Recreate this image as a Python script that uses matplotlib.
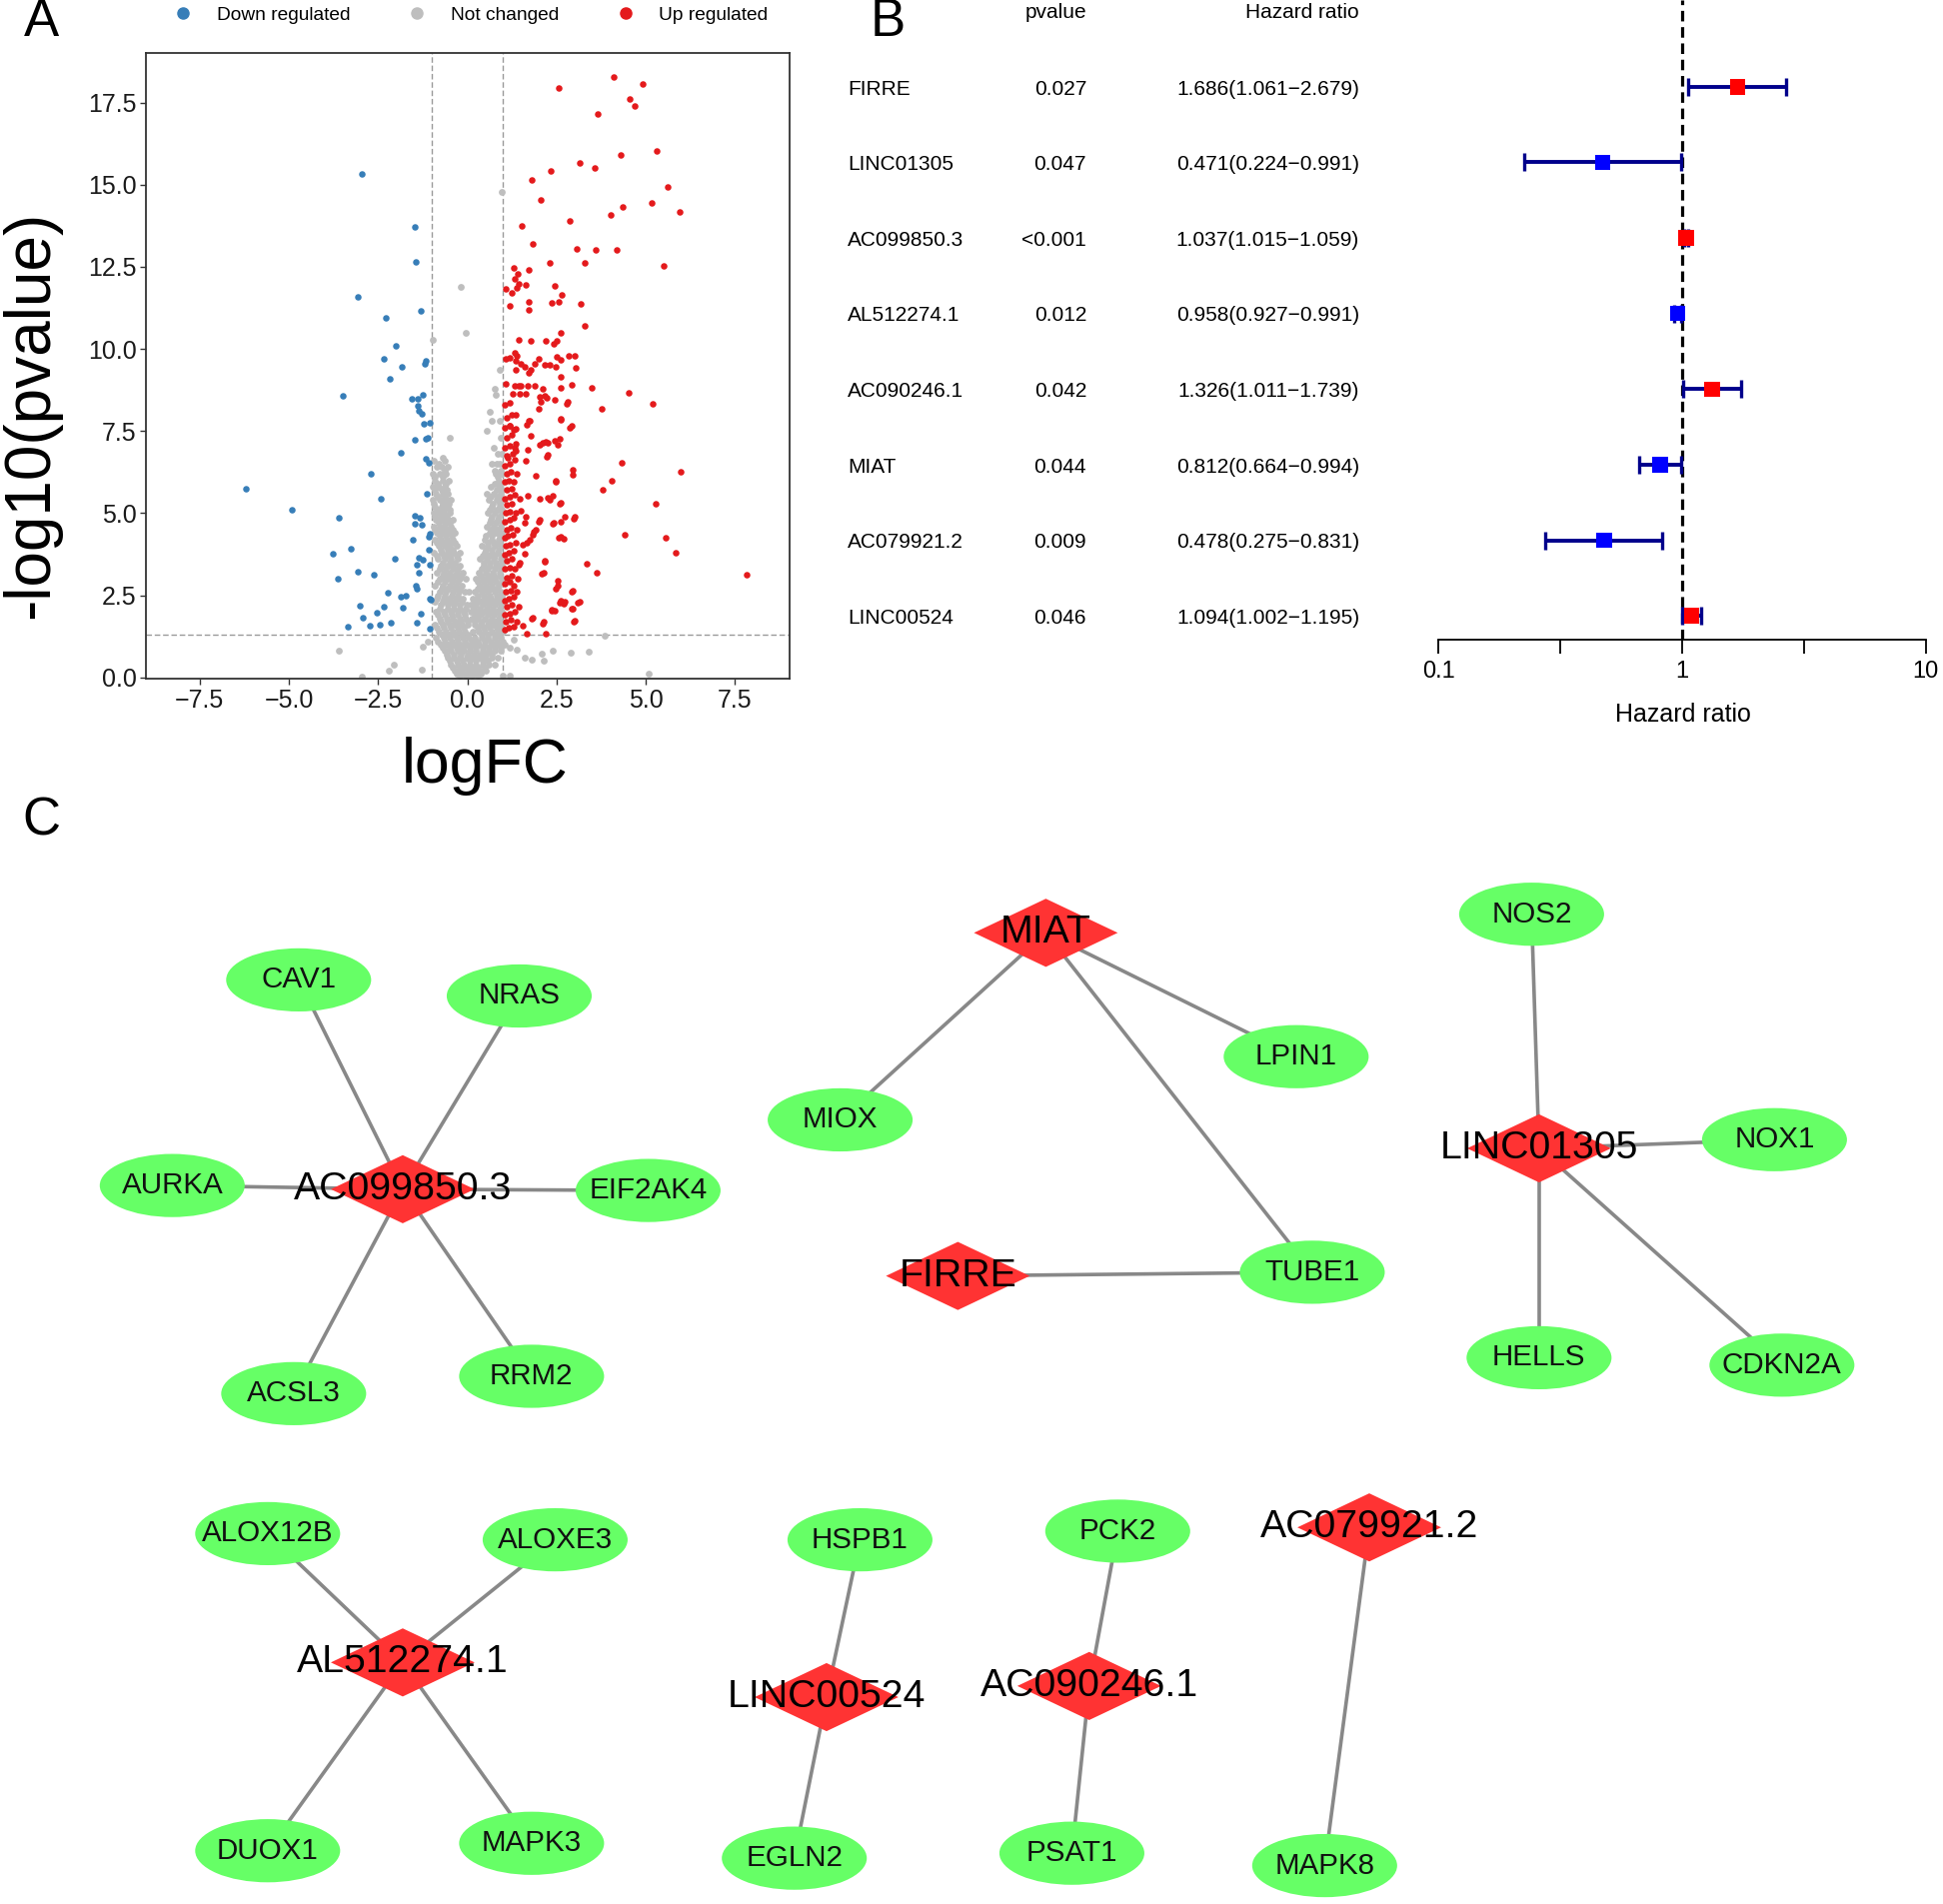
import matplotlib
matplotlib.use('Agg')
import matplotlib.pyplot as plt
import numpy as np
from matplotlib.patches import Ellipse, Polygon
from matplotlib.lines import Line2D
from matplotlib.transforms import blended_transform_factory

plt.rcParams['font.family'] = ['Liberation Sans', 'DejaVu Sans']

# ---------------- Panel A data (logFC, -log10 p) ----------------
down_pts = [(-2.97,15.34),(-1.48,13.71),(-1.43,12.66),(-3.08,11.58),(-1.30,11.16),(-2.27,10.95),
            (-2.0,10.10),(-2.33,9.71),(-1.83,9.47),(-2.16,9.09),(-1.15,9.64),(-1.18,9.55),(-3.49,8.57),
            (-1.56,8.47),(-1.40,8.49),(-1.25,8.61),(-1.40,8.26),(-1.36,8.11),(-1.28,8.03),(-1.22,7.72),
            (-1.06,7.76),(-1.46,7.24),(-1.17,7.27),(-1.10,7.30),(-1.86,6.85),(-1.15,6.67),(-1.08,6.54),
            (-2.71,6.19),(-1.13,5.60),(-6.21,5.73),(-2.43,5.43),(-4.91,5.10),(-3.59,4.87),(-1.48,4.93),
            (-1.33,4.87),(-1.46,4.69),(-1.27,4.65),(-1.05,4.37),(-1.08,4.27),(-1.52,4.20),(-3.27,3.92),
            (-1.07,3.88),(-3.78,3.77),(-2.02,3.61),(-1.36,3.64),(-1.26,3.57),(-1.41,3.43),(-1.05,3.42),
            (-3.08,3.22),(-2.62,3.12),(-1.37,3.18),(-3.62,3.0),(-1.43,2.80),(-1.41,2.70),(-2.24,2.58),
            (-1.73,2.49),(-1.85,2.45),(-1.06,2.41),(-1.02,2.38),(-3.02,2.17),(-2.34,2.16),(-1.80,2.11),
            (-2.54,1.97),(-2.93,1.83),(-1.30,1.95),(-2.14,1.67),(-2.44,1.61),(-2.72,1.57),(-3.35,1.53),
            (-1.41,1.67),(-1.05,1.47)]

up_pts_high = [(4.11,18.28),(2.56,17.93),(4.91,18.07),(4.55,17.61),(4.68,17.41),(3.65,17.16),(5.30,16.02),
               (4.30,15.90),(3.15,15.67),(2.33,15.41),(3.58,15.52),(1.82,15.15),(5.62,14.93),(2.06,14.55),
               (5.16,14.45),(4.36,14.31),(5.94,14.17),(4.01,14.08),(2.86,13.89),(1.53,13.75),(1.83,13.19),
               (3.07,13.05),(3.59,13.0),(4.18,13.01),(2.31,12.62),(3.30,12.62),(5.50,12.52),(1.30,12.48),
               (1.41,12.28),(1.71,12.42),(1.33,12.13),(1.65,11.95),(1.40,11.85),(1.26,11.71),(1.08,11.82),
               (1.43,11.97),(2.44,11.93),(2.64,11.64),(2.56,11.43),(2.36,11.41),(1.20,11.30),(1.73,11.44),
               (1.71,11.18),(3.18,11.36),(3.28,10.71),(2.61,10.48),(2.51,10.25),(2.43,10.17),(1.45,10.27),
               (1.78,10.24),(2.19,10.24),(1.07,9.69),(1.20,9.73),(1.32,9.87),(1.40,9.79),(1.35,9.64),
               (1.50,9.55),(1.36,9.36),(1.60,9.45),(1.77,9.37),(1.72,9.28),(2.01,9.71),(1.90,9.55),
               (2.18,9.52),(2.31,9.52),(2.52,9.75),(2.62,9.66),(2.84,9.79),(3.0,9.8),(3.04,9.41),
               (2.48,9.47),(2.62,9.15),(5.20,8.32),(5.97,6.25),(5.29,5.28),(5.57,4.26),(5.84,3.81),(7.83,3.14)]

up_pts_mid = [(1.09,8.93),(1.32,8.88),(1.51,8.88),(1.69,8.88),(1.88,8.88),(2.12,8.78),(2.63,8.83),(2.94,8.90),
              (3.48,8.83),(4.53,8.66),(1.27,8.63),(1.46,8.63),(1.65,8.63),(2.02,8.53),(2.16,8.58),(2.82,8.39),
              (3.76,8.19),(2.63,7.88),(2.92,7.66),(1.74,7.81),(1.35,7.99),(1.37,7.56),(1.18,7.66),(1.79,7.35),
              (2.59,7.25),(2.12,7.15),(2.26,7.15),(2.26,6.79),(1.32,6.99),(1.37,6.89),(1.70,6.94),(1.13,6.69),
              (1.32,6.64),(1.63,6.59),(2.96,6.33),(2.96,6.18),(4.32,6.52),(1.93,6.13),(2.49,6.0),(4.06,6.0),
              (3.81,5.72),(1.70,5.52),(2.02,5.43),(2.26,5.47),(2.40,5.52),(2.63,5.33),(1.51,5.06),(1.65,4.90),
              (2.02,4.80),(2.42,4.72),(2.73,4.90),(3.01,4.88),(2.63,4.75),(1.60,4.70),(1.93,4.50),(1.84,4.34),
              (2.63,4.29),(2.70,4.21),(4.42,4.34),(1.56,4.03),(1.60,3.78),(1.44,3.42),(2.18,3.55),(2.14,3.19),
              (3.36,3.45),(3.64,3.19),(2.54,2.93),(2.54,2.78),(2.96,2.64),(2.63,2.33),(2.73,2.30),(2.96,2.10),
              (3.15,2.30),(2.38,2.07),(2.45,2.03),(1.84,1.81),(2.14,1.69),(3.01,1.74),(1.56,1.57),(1.67,1.33),
              (2.21,1.33),(2.46,8.46),(2.06,8.39),(1.99,8.17),(2.24,8.52),(1.43,8.89),(2.79,8.33),(1.71,7.82),
              (1.68,7.68),(2.61,7.83),(2.87,7.59),(2.46,7.20),(2.54,7.07),(2.21,7.16),(2.02,7.07),(2.24,6.72),
              (2.48,5.95),(2.32,5.42),(2.59,5.28),(2.98,4.82),(2.39,4.69),(2.0,4.73),(1.86,4.44),(1.66,4.10),
              (1.75,4.20),(2.56,4.26),(2.16,3.52),(2.09,3.15),(2.49,2.70),(2.93,2.62),(3.09,2.28),(2.93,2.09),
              (2.59,2.28),(2.71,2.25),(2.37,2.03),(2.99,1.71),(1.81,1.78),(2.12,1.65)]

up_pts_strip = [(1.05,1.45),(1.15,1.5),(1.3,1.55),(1.08,1.7),(1.22,1.75),(1.4,1.7),(1.05,1.9),(1.18,1.95),
                (1.32,2.0),(1.1,2.15),(1.25,2.2),(1.45,2.15),(1.04,2.35),(1.16,2.4),(1.3,2.45),(1.08,2.6),
                (1.22,2.65),(1.38,2.6),(1.05,2.85),(1.18,2.9),(1.3,2.8),(1.12,3.05),(1.26,3.1),(1.42,3.0),
                (1.05,3.3),(1.2,3.35),(1.34,3.3),(1.1,3.55),(1.24,3.6),(1.48,3.5),(1.04,3.75),(1.16,3.8),
                (1.3,3.85),(1.08,4.0),(1.2,4.05),(1.36,4.1),(1.05,4.25),(1.14,4.3),(1.28,4.35),(1.1,4.5),
                (1.22,4.55),(1.4,4.5),(1.04,4.75),(1.18,4.8),(1.3,4.85),(1.08,5.0),(1.2,5.05),(1.36,5.0),
                (1.12,5.25),(1.26,5.3),(1.05,5.45),(1.18,5.5),(1.32,5.55),(1.46,5.45),(1.1,5.7),(1.24,5.75),
                (1.04,5.95),(1.16,6.0),(1.3,5.95),(1.1,6.2),(1.22,6.25),(1.38,6.2),(1.05,6.45),(1.2,6.5),
                (1.12,6.75),(1.28,6.8),(1.05,7.0),(1.2,7.05),(1.35,7.1),(1.1,7.3),(1.25,7.4),(1.06,7.6),
                (1.18,7.65),(1.3,7.55),(1.1,7.9),(1.25,8.0),(1.05,8.3),(1.18,8.35)]

nc_pts_left = [(-0.95,6.6),(-0.62,6.6),(-0.85,6.4),(-0.55,6.4),(-0.72,6.4),(-0.98,6.2),(-0.78,6.2),(-0.60,6.2),
               (-0.90,6.0),(-0.68,6.0),(-0.52,6.0),(-0.96,5.8),(-0.80,5.8),(-0.62,5.8),(-0.88,5.6),(-0.70,5.6),
               (-0.55,5.6),(-0.97,5.4),(-0.78,5.4),(-0.60,5.4),(-0.45,5.4),(-0.90,5.2),(-0.72,5.2),(-0.55,5.2),
               (-0.95,5.0),(-0.80,5.0),(-0.65,5.0),(-0.48,5.0),(-0.88,4.8),(-0.70,4.8),(-0.55,4.8),(-0.40,4.8),
               (-0.93,4.6),(-0.78,4.6),(-0.62,4.6),(-0.46,4.6),(-0.85,4.4),(-0.68,4.4),(-0.52,4.4),(-0.36,4.4),
               (-0.90,4.2),(-0.75,4.2),(-0.58,4.2),(-0.42,4.2),(-0.80,4.0),(-0.64,4.0),(-0.48,4.0),(-0.30,4.0),
               (-0.95,3.8),(-0.72,3.8),(-0.55,3.8),(-0.38,3.8),(-0.22,3.8),(-0.82,3.6),(-0.62,3.6),(-0.45,3.6),
               (-0.28,3.6),(-0.74,3.4),(-0.56,3.4),(-0.40,3.4),(-0.20,3.4),(-0.85,3.2),(-0.66,3.2),(-0.48,3.2),
               (-0.30,3.2),(-0.12,3.2),(-0.76,3.0),(-0.58,3.0),(-0.40,3.0),(-0.22,3.0),(-0.05,3.0),(-0.90,2.8),
               (-0.68,2.8),(-0.50,2.8),(-0.32,2.8),(-0.15,2.8),(-0.78,2.6),(-0.60,2.6),(-0.42,2.6),(-0.25,2.6),
               (-0.08,2.6),(0.05,2.6),(-0.85,2.4),(-0.66,2.4),(-0.48,2.4),(-0.30,2.4),(-0.12,2.4),(-0.74,2.2),
               (-0.55,2.2),(-0.38,2.2),(-0.20,2.2),(-0.02,2.2),(0.10,2.2),(-0.88,2.0),(-0.65,2.0),(-0.46,2.0),
               (-0.28,2.0),(-0.10,2.0),(-0.78,1.8),(-0.58,1.8),(-0.40,1.8),(-0.22,1.8),(-0.05,1.8),(0.12,1.8),
               (-0.92,1.6),(-0.70,1.6),(-0.50,1.6),(-0.32,1.6),(-0.15,1.6),(0.02,1.6),(-0.80,1.4),(-0.60,1.4),
               (-0.42,1.4),(-0.25,1.4),(-0.08,1.4),(0.15,1.4),(-0.88,1.2),(-0.66,1.2),(-0.48,1.2),(-0.30,1.2),
               (-0.12,1.2),(0.05,1.2),(0.22,1.2),(-0.75,1.0),(-0.55,1.0),(-0.38,1.0),(-0.20,1.0),(-0.02,1.0),
               (0.15,1.0),(0.32,1.0),(-0.62,0.8),(-0.45,0.8),(-0.28,0.8),(-0.10,0.8),(0.08,0.8),(0.25,0.8),
               (0.42,0.8),(-0.55,0.6),(-0.38,0.6),(-0.20,0.6),(-0.02,0.6),(0.15,0.6),(0.32,0.6),(0.50,0.6),
               (-0.45,0.4),(-0.28,0.4),(-0.10,0.4),(0.08,0.4),(0.25,0.4),(0.42,0.4),(-0.35,0.2),(-0.18,0.2),
               (0.0,0.2),(0.18,0.2),(0.35,0.2),(-0.22,0.05),(-0.05,0.05),(0.12,0.05),(0.28,0.05)]

nc_pts_right = [(0.80,8.6),(0.62,8.1),(0.68,7.8),(0.90,7.8),(0.55,7.5),(0.95,7.3),(0.75,7.0),(0.85,6.8),
                (0.98,6.8),(0.70,6.5),(0.92,6.5),(0.80,6.2),(0.96,6.2),(0.88,6.0),(0.65,5.8),(0.90,5.8),
                (0.55,5.6),(0.75,5.6),(0.95,5.6),(0.60,5.4),(0.82,5.4),(0.98,5.4),(0.70,5.2),(0.90,5.2),
                (0.58,5.0),(0.78,5.0),(0.96,5.0),(0.66,4.8),(0.85,4.8),(0.55,4.6),(0.74,4.6),(0.93,4.6),
                (0.62,4.4),(0.80,4.4),(0.97,4.4),(0.48,4.2),(0.68,4.2),(0.88,4.2),(0.40,4.0),(0.58,4.0),
                (0.76,4.0),(0.95,4.0),(0.50,3.8),(0.68,3.8),(0.86,3.8),(0.36,3.6),(0.55,3.6),(0.74,3.6),
                (0.93,3.6),(0.45,3.4),(0.64,3.4),(0.82,3.4),(0.98,3.4),(0.32,3.2),(0.52,3.2),(0.72,3.2),
                (0.90,3.2),(0.25,3.0),(0.42,3.0),(0.60,3.0),(0.78,3.0),(0.96,3.0),(0.34,2.8),(0.52,2.8),
                (0.70,2.8),(0.88,2.8),(0.22,2.6),(0.40,2.6),(0.58,2.6),(0.76,2.6),(0.94,2.6),(0.15,2.4),
                (0.30,2.4),(0.48,2.4),(0.66,2.4),(0.84,2.4),(0.98,2.4),(0.25,2.2),(0.42,2.2),(0.60,2.2),
                (0.78,2.2),(0.95,2.2),(0.10,2.0),(0.28,2.0),(0.46,2.0),(0.64,2.0),(0.82,2.0),(0.97,2.0),
                (0.30,1.8),(0.50,1.8),(0.70,1.8),(0.88,1.8),(0.20,1.6),(0.38,1.6),(0.56,1.6),(0.74,1.6),
                (0.92,1.6),(0.32,1.4),(0.50,1.4),(0.68,1.4),(0.86,1.4),(0.99,1.4),(0.40,1.2),(0.58,1.2),
                (0.76,1.2),(0.94,1.2),(0.50,1.0),(0.68,1.0),(0.86,1.0),(1.05,1.0),(0.60,0.8),(0.78,0.8),
                (0.95,0.8),(0.68,0.6),(0.85,0.6),(0.60,0.4),(0.78,0.4),(0.52,0.2)]

nc_pts_fill = [(-0.30,0.1),(-0.12,0.1),(0.05,0.1),(0.22,0.1),(0.38,0.1),
               (-0.40,0.3),(-0.22,0.3),(-0.05,0.3),(0.12,0.3),(0.30,0.3),(0.48,0.3),
               (-0.50,0.5),(-0.30,0.5),(-0.12,0.5),(0.06,0.5),(0.24,0.5),(0.42,0.5),(0.58,0.5),
               (-0.58,0.7),(-0.38,0.7),(-0.18,0.7),(0.0,0.7),(0.18,0.7),(0.36,0.7),(0.52,0.7),(0.70,0.7),
               (-0.68,0.9),(-0.48,0.9),(-0.30,0.9),(-0.12,0.9),(0.06,0.9),(0.24,0.9),(0.42,0.9),(0.60,0.9),
               (0.78,0.9),(0.95,0.9),
               (-0.82,1.1),(-0.62,1.1),(-0.44,1.1),(-0.26,1.1),(-0.08,1.1),(0.12,1.1),(0.30,1.1),(0.48,1.1),
               (0.66,1.1),(0.84,1.1),(1.0,1.1),
               (-0.72,1.3),(-0.52,1.3),(-0.34,1.3),(-0.16,1.3),(0.02,1.3),(0.40,1.3),(0.58,1.3),(0.76,1.3),(0.92,1.3),
               (-0.86,1.5),(-0.66,1.5),(-0.46,1.5),(-0.28,1.5),(-0.10,1.5),(0.28,1.5),(0.46,1.5),(0.64,1.5),
               (0.82,1.5),(0.96,1.5),
               (-0.74,1.7),(-0.55,1.7),(-0.36,1.7),(-0.18,1.7),(0.0,1.7),(0.22,1.7),(0.40,1.7),(0.60,1.7),
               (0.80,1.7),(0.95,1.7),
               (-0.84,1.9),(-0.62,1.9),(-0.44,1.9),(-0.26,1.9),(-0.08,1.9),(0.20,1.9),(0.38,1.9),(0.56,1.9),
               (0.74,1.9),(0.92,1.9),
               (-0.78,2.1),(-0.56,2.1),(-0.38,2.1),(-0.20,2.1),(-0.03,2.1),(0.18,2.1),(0.36,2.1),(0.54,2.1),
               (0.72,2.1),(0.90,2.1),
               (-0.90,2.3),(-0.70,2.3),(-0.52,2.3),(-0.34,2.3),(-0.16,2.3),(0.20,2.3),(0.38,2.3),(0.56,2.3),
               (0.74,2.3),(0.92,2.3),
               (-0.82,2.5),(-0.62,2.5),(-0.44,2.5),(-0.26,2.5),(0.28,2.5),(0.46,2.5),(0.64,2.5),(0.82,2.5),(0.97,2.5),
               (-0.72,2.7),(-0.54,2.7),(-0.36,2.7),(-0.20,2.7),(0.30,2.7),(0.48,2.7),(0.66,2.7),(0.84,2.7),
               (-0.82,2.9),(-0.62,2.9),(-0.44,2.9),(-0.26,2.9),(0.30,2.9),(0.46,2.9),(0.62,2.9),(0.80,2.9),(0.96,2.9),
               (-0.70,3.1),(-0.52,3.1),(-0.34,3.1),(-0.18,3.1),(0.38,3.1),(0.56,3.1),(0.74,3.1),(0.92,3.1),
               (-0.78,3.3),(-0.60,3.3),(-0.42,3.3),(-0.26,3.3),(0.40,3.3),(0.58,3.3),(0.76,3.3),(0.94,3.3),
               (-0.68,3.5),(-0.50,3.5),(-0.34,3.5),(0.45,3.5),(0.62,3.5),(0.80,3.5),(0.96,3.5),
               (-0.86,3.7),(-0.66,3.7),(-0.48,3.7),(-0.30,3.7),(0.44,3.7),(0.60,3.7),(0.78,3.7),(0.96,3.7),
               (-0.74,3.9),(-0.56,3.9),(-0.40,3.9),(0.52,3.9),(0.70,3.9),(0.88,3.9),
               (-0.86,4.1),(-0.68,4.1),(-0.50,4.1),(-0.34,4.1),(0.56,4.1),(0.74,4.1),(0.92,4.1),
               (-0.78,4.3),(-0.60,4.3),(-0.44,4.3),(0.52,4.3),(0.70,4.3),(0.90,4.3),
               (-0.90,4.5),(-0.72,4.5),(-0.56,4.5),(-0.40,4.5),(0.66,4.5),(0.84,4.5),
               (-0.80,4.7),(-0.62,4.7),(-0.48,4.7),(0.62,4.7),(0.80,4.7),(0.96,4.7),
               (-0.92,4.9),(-0.74,4.9),(-0.58,4.9),(0.70,4.9),(0.88,4.9),
               (-0.84,5.1),(-0.66,5.1),(-0.50,5.1),(0.64,5.1),(0.82,5.1),(0.97,5.1),
               (-0.94,5.3),(-0.68,5.3),(-0.52,5.3),(0.72,5.3),(0.90,5.3),
               (-0.84,5.5),(-0.64,5.5),(0.66,5.5),(0.86,5.5),
               (-0.92,5.7),(-0.72,5.7),(-0.58,5.7),(0.82,5.7),(0.97,5.7),
               (-0.84,5.9),(-0.60,5.9),(0.78,5.9),(0.94,5.9),
               (-0.90,6.1),(-0.70,6.1),(0.86,6.1),
               (-0.64,6.3),(0.76,6.3),(0.95,6.3),
               (-0.80,6.5),(0.84,6.5)]

nc_pts_scatter = [(-0.19,11.89),(-0.04,10.48),(0.97,14.78),(-0.96,10.29),(0.91,9.37),(0.78,8.8),(-0.5,7.3),
                  (-0.7,6.7),(-2.95,0.03),(-2.2,0.2),(-2.05,0.4),(-3.6,0.8),(-1.28,0.25),(-1.25,0.95),
                  (-1.1,1.1),(1.2,0.05),(1.0,0.05),(1.2,0.9),(1.4,0.85),(1.6,0.6),(1.8,0.55),(2.1,0.72),
                  (2.15,0.5),(2.4,0.8),(2.9,0.75),(3.4,0.77),(3.85,1.27),(5.09,0.11),(1.3,1.15)]

pvalue_cutoff = 0.05
logfc_cutoff = 1.0
legend_labels = ['Down regulated', 'Not changed', 'Up regulated']
group_colors = ['#377EB8', '#BEBEBE', '#E41A1C']
x_ticks = [-7.5, -5.0, -2.5, 0.0, 2.5, 5.0, 7.5]
y_ticks = [0.0, 2.5, 5.0, 7.5, 10.0, 12.5, 15.0, 17.5]

# ---------------- Panel B data ----------------
genes = ['FIRRE', 'LINC01305', 'AC099850.3', 'AL512274.1', 'AC090246.1', 'MIAT', 'AC079921.2', 'LINC00524']
pvals = ['0.027', '0.047', '<0.001', '0.012', '0.042', '0.044', '0.009', '0.046']
hr = [1.686, 0.471, 1.037, 0.958, 1.326, 0.812, 0.478, 1.094]
hr_low = [1.061, 0.224, 1.015, 0.927, 1.011, 0.664, 0.275, 1.002]
hr_high = [2.679, 0.991, 1.059, 0.991, 1.739, 0.994, 0.831, 1.195]

# ---------------- Panel C data (layout in panel pixel units) ----------------
lnc_nodes = {'AC099850.3': (325, 960), 'MIAT': (844, 753), 'FIRRE': (773, 1030), 'LINC01305': (1242, 927),
             'AL512274.1': (325, 1342), 'LINC00524': (667, 1370), 'AC090246.1': (879, 1361),
             'AC079921.2': (1105, 1233)}
gene_nodes = {'CAV1': (241, 791), 'NRAS': (419, 804), 'AURKA': (139, 957), 'EIF2AK4': (523, 961),
              'ACSL3': (237, 1125), 'RRM2': (429, 1111), 'MIOX': (678, 904), 'LPIN1': (1046, 853),
              'TUBE1': (1059, 1027), 'NOS2': (1236, 738), 'NOX1': (1432, 920), 'HELLS': (1242, 1096),
              'CDKN2A': (1438, 1102), 'ALOX12B': (216, 1238), 'ALOXE3': (448, 1243), 'DUOX1': (216, 1494),
              'MAPK3': (429, 1488), 'HSPB1': (694, 1243), 'EGLN2': (641, 1500), 'PCK2': (902, 1236),
              'PSAT1': (865, 1496), 'MAPK8': (1069, 1506)}
edges = [('AC099850.3', 'CAV1'), ('AC099850.3', 'NRAS'), ('AC099850.3', 'AURKA'), ('AC099850.3', 'EIF2AK4'),
         ('AC099850.3', 'ACSL3'), ('AC099850.3', 'RRM2'), ('MIAT', 'MIOX'), ('MIAT', 'LPIN1'),
         ('MIAT', 'TUBE1'), ('FIRRE', 'TUBE1'), ('LINC01305', 'NOS2'), ('LINC01305', 'NOX1'),
         ('LINC01305', 'HELLS'), ('LINC01305', 'CDKN2A'), ('AL512274.1', 'ALOX12B'), ('AL512274.1', 'ALOXE3'),
         ('AL512274.1', 'DUOX1'), ('AL512274.1', 'MAPK3'), ('LINC00524', 'HSPB1'), ('LINC00524', 'EGLN2'),
         ('AC090246.1', 'PCK2'), ('AC090246.1', 'PSAT1'), ('AC079921.2', 'MAPK8')]

# =====================================================================
W, H = 1944, 1905
fig = plt.figure(figsize=(W / 100, H / 100), dpi=100)

# ---------------- Panel C: network ----------------
axn = fig.add_axes([0, 0, 1, 1])
axn.set_xlim(0, 1568)
axn.set_ylim(1537, 0)
axn.axis('off')
allpos = dict(lnc_nodes)
allpos.update(gene_nodes)
for a, b in edges:
    (x1, y1), (x2, y2) = allpos[a], allpos[b]
    axn.plot([x1, x2], [y1, y2], color='#888888', lw=2.6, zorder=1, solid_capstyle='butt')
ew, eh = 117, 51
for name, (x, y) in gene_nodes.items():
    axn.add_patch(Ellipse((x, y), ew, eh, facecolor='#66FF66', edgecolor='none', zorder=2))
    axn.text(x, y, name, ha='center', va='center', fontsize=21.3, color='#111111', zorder=4)
dw, dh = 116, 55
for name, (x, y) in lnc_nodes.items():
    verts = [(x - dw / 2, y), (x, y - dh / 2), (x + dw / 2, y), (x, y + dh / 2)]
    axn.add_patch(Polygon(verts, closed=True, facecolor='#FF3333', edgecolor='none', zorder=3))
    axn.text(x, y, name, ha='center', va='center', fontsize=28.3, color='black', zorder=4)

# ---------------- Panel A: volcano ----------------
axv = fig.add_axes([146.3 / W, 1 - 679.4 / H, (789.8 - 146.3) / W, (679.4 - 53.3) / H])
nc = np.array(nc_pts_left + nc_pts_right + nc_pts_fill + nc_pts_scatter)
dn = np.array(down_pts)
up = np.array(up_pts_high + up_pts_mid + up_pts_strip)
axv.scatter(nc[:, 0], nc[:, 1], s=24, c=group_colors[1], linewidths=0, zorder=2)
axv.scatter(dn[:, 0], dn[:, 1], s=22, c=group_colors[0], linewidths=0, zorder=3)
axv.scatter(up[:, 0], up[:, 1], s=22, c=group_colors[2], linewidths=0, zorder=3)
for xv in (-logfc_cutoff, logfc_cutoff):
    axv.axvline(xv, color='#9a9a9a', lw=1.0, dashes=(4, 2), zorder=1)
axv.axhline(-np.log10(pvalue_cutoff), color='#9a9a9a', lw=1.0, dashes=(4, 2), zorder=1)
axv.set_xlim(-9.0, 9.03)
axv.set_ylim(-0.05, 19.0)
axv.set_xticks(x_ticks)
axv.set_xticklabels([f"{v:.1f}".replace('-', '\u2212') for v in x_ticks])
axv.set_yticks(y_ticks)
axv.set_yticklabels([f"{v:.1f}" for v in y_ticks])
axv.tick_params(labelsize=18, length=4, width=1.0, color='#333333', labelcolor='#1a1a1a', pad=3)
for sp in axv.spines.values():
    sp.set_color('#333333')
    sp.set_linewidth(1.3)
fig.text(31 / W, 1 - 415 / H, '-log10(pvalue)', rotation=90, ha='center', va='center', fontsize=46)
fig.text(485 / W, 1 - 767 / H, 'logFC', ha='center', va='center', fontsize=45)
handles = [Line2D([], [], marker='o', ls='', color=c, ms=8) for c in group_colors]
fig.legend(handles, legend_labels, loc='center', bbox_to_anchor=(471 / W, 1 - 15 / H), ncol=3,
           frameon=False, fontsize=13.8, handlelength=1.0, handletextpad=1.24, columnspacing=3.0,
           borderpad=0, borderaxespad=0)

# ---------------- Panel B: forest ----------------
axf = fig.add_axes([1439.4 / W, 1 - 640 / H, (1926.7 - 1439.4) / W, 640 / H])
axf.set_xscale('log')
axf.set_xlim(0.1, 10)
axf.set_ylim(7.315, -1.148)
rows = np.arange(len(genes))
hr_a, lo_a, hi_a = np.array(hr), np.array(hr_low), np.array(hr_high)
axf.axvline(1, color='black', lw=2.3, dashes=(3.3, 1.8), zorder=1)
axf.errorbar(hr_a, rows, xerr=[hr_a - lo_a, hi_a - hr_a], fmt='none', ecolor='#00008B', elinewidth=2.8,
             capsize=6.3, capthick=2.4, zorder=2, clip_on=False)
cols = ['#FF0000' if v > 1 else '#0000FF' for v in hr]
axf.scatter(hr_a, rows, marker='s', s=125, c=cols, linewidths=0, zorder=3, clip_on=False)
for s in ('top', 'right', 'left'):
    axf.spines[s].set_visible(False)
axf.spines['bottom'].set_bounds(0.1, 10)
axf.spines['bottom'].set_linewidth(1.3)
axf.set_yticks([])
axf.set_xticks([0.1, 10 ** -0.5, 1, 10 ** 0.5, 10])
axf.set_xticklabels(['0.1', '', '1', '', '10'])
axf.xaxis.set_minor_locator(matplotlib.ticker.NullLocator())
axf.tick_params(axis='x', labelsize=17, length=9.8, width=1.3, pad=5)
axf.patch.set_alpha(0)
fig.text(1683.6 / W, 1 - 715 / H, 'Hazard ratio', ha='center', va='center', fontsize=18)

trans = blended_transform_factory(fig.transFigure, axf.transData)
for i, g in enumerate(genes):
    fig.text(848 / W, i + 0.03, g, transform=trans, ha='left', va='center', fontsize=15)
    fig.text(1087 / W, i + 0.03, pvals[i], transform=trans, ha='right', va='center', fontsize=15)
    fig.text(1360 / W, i + 0.03, f"{hr[i]:.3f}({hr_low[i]:.3f}\u2212{hr_high[i]:.3f})", transform=trans,
             ha='right', va='center', fontsize=15)
fig.text(1087 / W, 1 - 13 / H, 'pvalue', ha='right', va='center', fontsize=15)
fig.text(1360 / W, 1 - 13 / H, 'Hazard ratio', ha='right', va='center', fontsize=15)

# panel letters
fig.text(41 / W, 1 - 22 / H, 'A', ha='center', va='center', fontsize=38)
fig.text(888 / W, 1 - 22 / H, 'B', ha='center', va='center', fontsize=38)
fig.text(41 / W, 1 - 821 / H, 'C', ha='center', va='center', fontsize=38)

fig.savefig('out.png', dpi=100)
